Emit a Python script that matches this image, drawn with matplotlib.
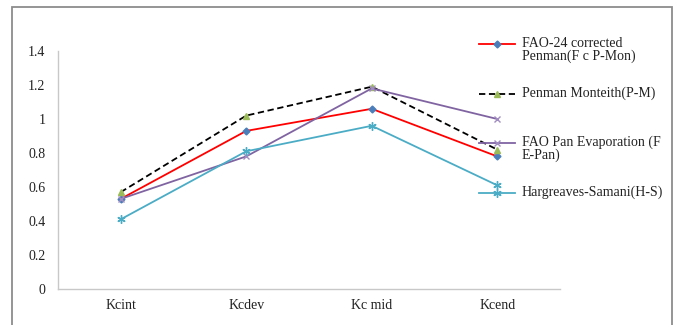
import numpy as np
import matplotlib.pyplot as plt
from matplotlib.lines import Line2D
from matplotlib.patches import Rectangle

plt.rcParams['font.family'] = ['Liberation Serif', 'DejaVu Serif']

# datos -------------------------------------------------------------
etapas = ["Kcint", "Kcdev", "Kc mid", "Kcend"]
fao24 = [0.53, 0.93, 1.06, 0.78]
p_m = [0.57, 1.02, 1.19, 0.82]
fao_pan = [0.53, 0.78, 1.18, 1.00]
h_s = [0.41, 0.81, 0.96, 0.61]
y_ticks = [0, 0.2, 0.4, 0.6, 0.8, 1.0, 1.2, 1.4]
y_labels = ["0", "0.2", "0.4", "0.6", "0.8", "1", "1.2", "1.4"]

nombres = ["FAO-24 corrected\nPenman(F c P-Mon)",
           "Penman Monteith(P-M)",
           "FAO Pan Evaporation (F\nE-Pan)",
           "Hargreaves-Samani(H-S)"]

asterisco = (6, 2, 0)
estilos = [
    dict(color="#ff0000", ls="-", marker="D", mfc="#4a7ebb", mec="#4a7ebb", ms=3.5),
    dict(color="#000000", ls=(0, (3.5, 2)), marker="^", mfc="#9bbb59", mec="#9bbb59", ms=5),
    dict(color="#8064a2", ls="-", marker="x", mfc="#8064a2", mec="#a08cc0", ms=5),
    dict(color="#4bacc6", ls="-", marker=asterisco, mfc="#4bacc6", mec="#4bacc6", ms=6),
]
series = [fao24, p_m, fao_pan, h_s]

fig = plt.figure(figsize=(6.78, 3.25), dpi=100)
ax = fig.add_axes([58 / 678, 1 - 289 / 325, 502 / 678, 238 / 325])

x = np.arange(len(etapas))
for datos, est in zip(series, estilos):
    ax.plot(x, datos, lw=1.3, mew=1.0, **est)

ax.set_xlim(-0.5, len(etapas) - 0.5)
ax.set_ylim(0, 1.4)
ax.set_yticks(y_ticks)
ax.set_yticklabels(y_labels)
ax.set_xticks(x)
ax.set_xticklabels(etapas)
ax.tick_params(axis="both", length=0, labelsize=10, colors="#222222")
ax.tick_params(axis="y", pad=9)
ax.tick_params(axis="x", pad=7)
for lado in ["top", "right"]:
    ax.spines[lado].set_visible(False)
for lado in ["left", "bottom"]:
    ax.spines[lado].set_color("#c8c8c8")
    ax.spines[lado].set_linewidth(1.0)

# leyenda a la derecha ------------------------------------------------
pos_y = [44, 94, 143, 193]
for nombre, est, py in zip(nombres, estilos, pos_y):
    yf = 1 - py / 325
    fig.add_artist(Line2D([479 / 678, 497 / 678, 515 / 678], [yf, yf, yf],
                          lw=1.3, mew=1.0, markevery=[1], **est))
    fig.text(522 / 678, yf + 7 / 325, nombre, fontsize=10, va="top", ha="left",
             color="#222222", linespacing=0.95)

# marco exterior
fig.add_artist(Rectangle((12 / 678, -0.1), 660 / 678, 1.1 - 7 / 325,
                         transform=fig.transFigure, fill=False,
                         edgecolor="#8c8c8c", lw=1.3))

fig.savefig("out.png", dpi=100)
